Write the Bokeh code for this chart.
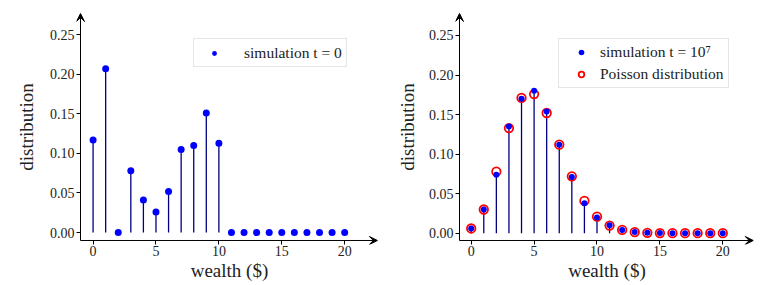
from bokeh.plotting import figure
from bokeh.layouts import row
from bokeh.models import Range1d, FixedTicker, Arrow, VeeHead, Legend, LegendItem
from bokeh.embed import file_html
from bokeh.resources import INLINE

# ---------------- data ----------------
wealth = list(range(21))
sim_t0 = [0.117, 0.207, 0.0, 0.078, 0.041, 0.026, 0.052, 0.105, 0.110, 0.151, 0.113,
          0.0, 0.0, 0.0, 0.0, 0.0, 0.0, 0.0, 0.0, 0.0, 0.0]
sim_t1e7 = [0.006, 0.030, 0.074, 0.135, 0.170, 0.180, 0.154, 0.112, 0.071, 0.038, 0.020,
            0.010, 0.004, 0.0015, 0.0006, 0.0002, 0.0001, 0.0, 0.0, 0.0, 0.0]
poisson = [0.006, 0.030, 0.078, 0.133, 0.171, 0.176, 0.152, 0.112, 0.072, 0.041, 0.021,
           0.0097, 0.0042, 0.0014, 0.0005, 0.0002, 0.0001, 0.0, 0.0, 0.0, 0.0]

x_ticks = [0, 5, 10, 15, 20]
x_tick_labels = ["0", "5", "10", "15", "20"]
y_ticks = [0.0, 0.05, 0.10, 0.15, 0.20, 0.25]
y_tick_labels = ["0.00", "0.05", "0.10", "0.15", "0.20", "0.25"]

label_left_legend = "simulation t = 0"
label_right_sim = "simulation t = 10\u2077"
label_right_poisson = "Poisson distribution"
xlabel = "wealth ($)"
ylabel = "distribution"

FONT = "Liberation Serif"
TXT = "#222222"
PAD_PX = 4  # frame extends this far beyond the drawn spines (so arrow heads are not clipped)


def make_fig(width, border_left, frame_w, x_axis_lims, y_axis_lims, ylabel_standoff):
    px_x = 12.58
    px_y = 197.7 / 0.25
    x0 = x_axis_lims[0] - PAD_PX / px_x
    x1 = x0 + frame_w / px_x
    y0 = y_axis_lims[0] - PAD_PX / px_y
    y1 = y_axis_lims[1] + PAD_PX / px_y
    p = figure(width=width, height=284, output_backend="svg", toolbar_location=None,
               x_range=Range1d(x0, x1), y_range=Range1d(y0, y1),
               min_border_left=border_left, min_border_right=width - border_left - frame_w,
               min_border_top=9, min_border_bottom=40)
    p.outline_line_color = None
    p.xgrid.visible = False
    p.ygrid.visible = False
    for ax, ticks, labels in ((p.xaxis[0], x_ticks, x_tick_labels),
                              (p.yaxis[0], y_ticks, y_tick_labels)):
        ax.ticker = FixedTicker(ticks=ticks, minor_ticks=[])
        ax.major_label_overrides = {t: l for t, l in zip(ticks, labels)}
        ax.major_tick_out = 0
        ax.major_tick_in = PAD_PX
        ax.minor_tick_line_color = None
        ax.axis_line_color = None
        ax.major_tick_line_color = "black"
        ax.major_label_text_font = FONT
        ax.major_label_text_font_size = "14px"
        ax.major_label_text_color = TXT
        ax.axis_label_text_font = FONT
        ax.axis_label_text_font_size = "19px"
        ax.axis_label_text_font_style = "normal"
        ax.axis_label_text_color = TXT
    p.xaxis[0].major_label_standoff = 1
    p.yaxis[0].major_label_standoff = 2
    p.xaxis[0].axis_label = xlabel
    p.yaxis[0].axis_label = ylabel
    p.xaxis[0].axis_label_standoff = 1
    p.yaxis[0].axis_label_standoff = ylabel_standoff

    # spines with arrow heads
    xa0, xa1 = x_axis_lims
    ya0, ya1 = y_axis_lims
    p.add_layout(Arrow(end=VeeHead(size=8, fill_color="black", line_color="black", line_width=1),
                       x_start=xa0, y_start=ya0, x_end=xa1, y_end=ya0,
                       line_color="black", line_width=1))
    p.add_layout(Arrow(end=VeeHead(size=8, fill_color="black", line_color="black", line_width=1),
                       x_start=xa0, y_start=ya0, x_end=xa0, y_end=ya1,
                       line_color="black", line_width=1))
    return p


def style_legend(leg):
    leg.margin = 0
    leg.label_text_font = FONT
    leg.label_text_font_size = "15.5px"
    leg.label_text_color = TXT
    leg.border_line_color = "#cccccc"
    leg.border_line_width = 1
    leg.background_fill_color = "white"
    leg.background_fill_alpha = 0.8


# ---------------- left panel ----------------
p1 = make_fig(382, 76, 306, (-1.0, 22.6), (-0.0101, 0.2769), 10)
p1.segment(x0=wealth, y0=0, x1=wealth, y1=sim_t0, line_color="navy", line_width=1.3)
r1 = p1.scatter(x=wealth, y=sim_t0, size=7, fill_color="blue", line_color="blue", line_width=0)
leg1 = Legend(items=[LegendItem(label=label_left_legend, renderers=[r1])],
              location=(117, 177), padding=4, spacing=0,
              label_height=19, glyph_height=12, glyph_width=32, label_standoff=14)
style_legend(leg1)
p1.add_layout(leg1)

# ---------------- right panel ----------------
p2 = make_fig(378, 73, 303, (-0.93, 22.42), (-0.0092, 0.2778), 8)
p2.segment(x0=wealth, y0=0, x1=wealth, y1=sim_t1e7, line_color="navy", line_width=1.3)
r_pois = p2.scatter(x=wealth, y=poisson, size=8.5, fill_color=None, line_color="red", line_width=1.8)
r_sim = p2.scatter(x=wealth, y=sim_t1e7, size=6, fill_color="blue", line_color="blue", line_width=0)
leg2 = Legend(items=[LegendItem(label=label_right_sim, renderers=[r_sim]),
                     LegendItem(label=label_right_poisson, renderers=[r_pois])],
              location=(103, 156), padding=4, spacing=4,
              label_height=18, glyph_height=14, glyph_width=36, label_standoff=1)
style_legend(leg2)
p2.add_layout(leg2)

layout = row(p1, p2, spacing=0)
open("out.html", "w").write(file_html(layout, INLINE))
